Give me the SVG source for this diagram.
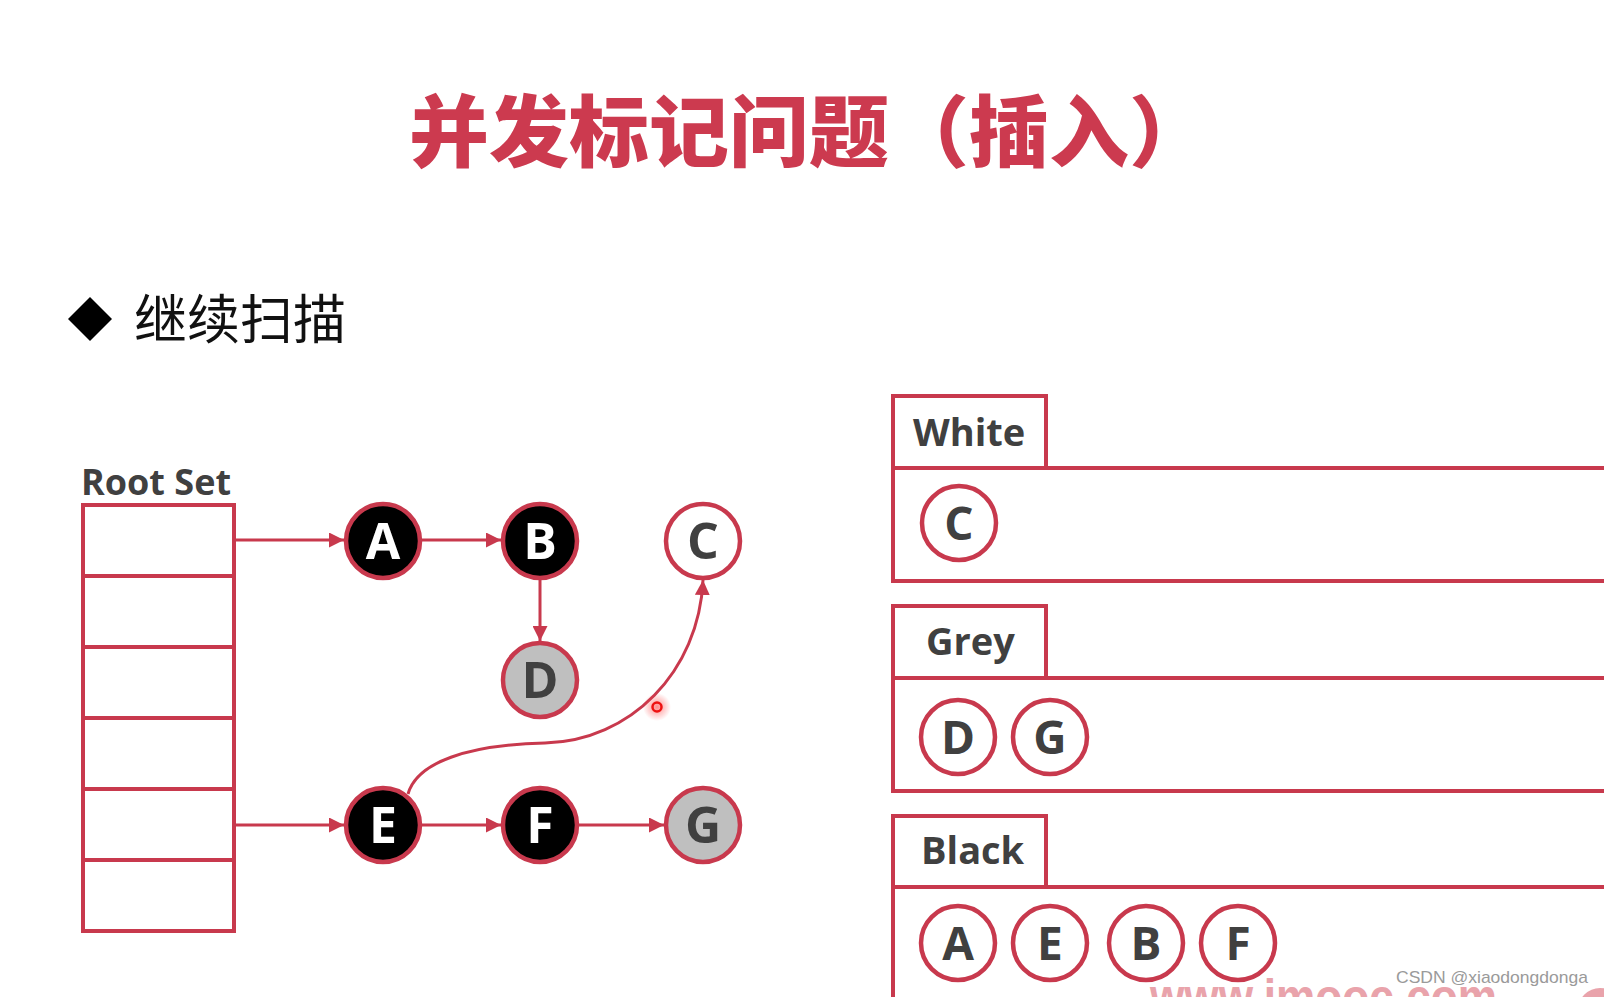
<svg xmlns="http://www.w3.org/2000/svg" width="1604" height="997" viewBox="0 0 1604 997">
<defs>
<style>
.ln{fill:none;stroke:#c8394d;stroke-width:4}
.nd{stroke:#c8394d;stroke-width:4.5}
.blk{fill:#000}
.gry{fill:#bfbfbf}
.wht{fill:#fff}
.lw{font-family:"Open Sans","Noto Sans",sans-serif;font-weight:700;font-size:50px;fill:#fff;text-anchor:middle}
.ld{font-family:"Open Sans","Noto Sans",sans-serif;font-weight:700;font-size:50px;fill:#404040;text-anchor:middle}
.ls{font-family:"Open Sans","Noto Sans",sans-serif;font-weight:700;font-size:46px;fill:#404040;text-anchor:middle}
.hd{font-family:"Open Sans","Noto Sans",sans-serif;font-weight:700;font-size:38px;fill:#404040}
.cn{stroke:#c8394d;stroke-width:3;fill:none}
</style>
<marker id="ah" viewBox="0 0 10 10" refX="10" refY="5" markerWidth="15" markerHeight="15" markerUnits="userSpaceOnUse" orient="auto">
<path d="M0,0 L10,5 L0,10 z" fill="#c8394d"/>
</marker>
<radialGradient id="glow">
<stop offset="0" stop-color="#ff4040" stop-opacity="0.6"/>
<stop offset="1" stop-color="#ff4040" stop-opacity="0"/>
</radialGradient>
</defs>
<rect width="1604" height="997" fill="#fff"/>

<g id="title">
<text x="409" y="161" textLength="800" lengthAdjust="spacingAndGlyphs" font-family="'Noto Sans CJK SC','Noto Sans CJK JP',sans-serif" font-weight="900" font-size="78" fill="#cc3a4f">并发标记问题（插入）</text>
</g>

<g id="bullet">
<polygon points="90,297 112,319 90,341 68,319" fill="#000"/>
<text x="134" y="339" font-family="'Noto Sans CJK SC','Noto Sans CJK JP',sans-serif" font-size="53" fill="#111">继续扫描</text>
</g>

<g id="rootset">
<text x="81" y="495" font-family="'Open Sans','Noto Sans',sans-serif" font-weight="700" font-size="36" fill="#404040">Root Set</text>
<rect class="ln" x="83" y="505" width="151" height="426"/>
<path class="ln" d="M83,576 H234 M83,647 H234 M83,718 H234 M83,789 H234 M83,860 H234"/>
</g>

<g id="connectors">
<path class="cn" d="M234,540 H344" marker-end="url(#ah)"/>
<path class="cn" d="M421,540 H501" marker-end="url(#ah)"/>
<path class="cn" d="M540,579 V641" marker-end="url(#ah)"/>
<path class="cn" d="M234,825 H344" marker-end="url(#ah)"/>
<path class="cn" d="M421,825 H501" marker-end="url(#ah)"/>
<path class="cn" d="M578,825 H664" marker-end="url(#ah)"/>
<path class="cn" d="M408,794 C417,762 468,745 545,743 C630,741 699,672 703,580" marker-end="url(#ah)"/>
</g>

<g id="node-A"><circle class="nd blk" cx="383" cy="541" r="37"/><text class="lw" x="383" y="559">A</text></g>
<g id="node-B"><circle class="nd blk" cx="540" cy="541" r="37"/><text class="lw" x="540" y="559">B</text></g>
<g id="node-C"><circle class="nd wht" cx="703" cy="541" r="37"/><text class="ld" x="703" y="559">C</text></g>
<g id="node-D"><circle class="nd gry" cx="540" cy="680" r="37"/><text class="ld" x="540" y="698">D</text></g>
<g id="node-E"><circle class="nd blk" cx="383" cy="825" r="37"/><text class="lw" x="383" y="843">E</text></g>
<g id="node-F"><circle class="nd blk" cx="540" cy="825" r="37"/><text class="lw" x="540" y="843">F</text></g>
<g id="node-G"><circle class="nd gry" cx="703" cy="825" r="37"/><text class="ld" x="703" y="843">G</text></g>

<g id="pointer">
<circle cx="657" cy="707" r="14" fill="url(#glow)"/>
<circle cx="657" cy="707" r="4.5" fill="none" stroke="#ee1111" stroke-width="2.5"/>
</g>

<g id="panel-white">
<rect class="ln" x="893" y="396" width="153" height="72"/>
<rect class="ln" x="893" y="468" width="730" height="113"/>
<text class="hd" x="913" y="446">White</text>
<circle class="nd wht" cx="959" cy="523" r="37"/><text class="ls" x="959" y="540">C</text>
</g>

<g id="panel-grey">
<rect class="ln" x="893" y="606" width="153" height="72"/>
<rect class="ln" x="893" y="678" width="730" height="113"/>
<text class="hd" x="926" y="655">Grey</text>
<circle class="nd wht" cx="958" cy="737" r="37"/><text class="ls" x="958" y="754">D</text>
<circle class="nd wht" cx="1050" cy="737" r="37"/><text class="ls" x="1050" y="754">G</text>
</g>

<g id="panel-black">
<rect class="ln" x="893" y="816" width="153" height="71"/>
<rect class="ln" x="893" y="887" width="730" height="140"/>
<text class="hd" x="921" y="864">Black</text>
<circle class="nd wht" cx="958" cy="943" r="37"/><text class="ls" x="958" y="960">A</text>
<circle class="nd wht" cx="1050" cy="943" r="37"/><text class="ls" x="1050" y="960">E</text>
<circle class="nd wht" cx="1146" cy="943" r="37"/><text class="ls" x="1146" y="960">B</text>
<circle class="nd wht" cx="1238" cy="943" r="37"/><text class="ls" x="1238" y="960">F</text>
</g>

<g id="watermark">
<text x="1150" y="1014" textLength="347" lengthAdjust="spacingAndGlyphs" font-family="'Liberation Sans',sans-serif" font-weight="700" font-size="50" fill="#e9a3ab">www.imooc.com</text>
<circle cx="1600" cy="1010" r="22" fill="#e9a3ab"/>
<text x="1396" y="983" textLength="192" lengthAdjust="spacingAndGlyphs" font-family="'Liberation Sans',sans-serif" font-size="17" fill="#9a9a9a">CSDN @xiaodongdonga</text>
</g>
</svg>
